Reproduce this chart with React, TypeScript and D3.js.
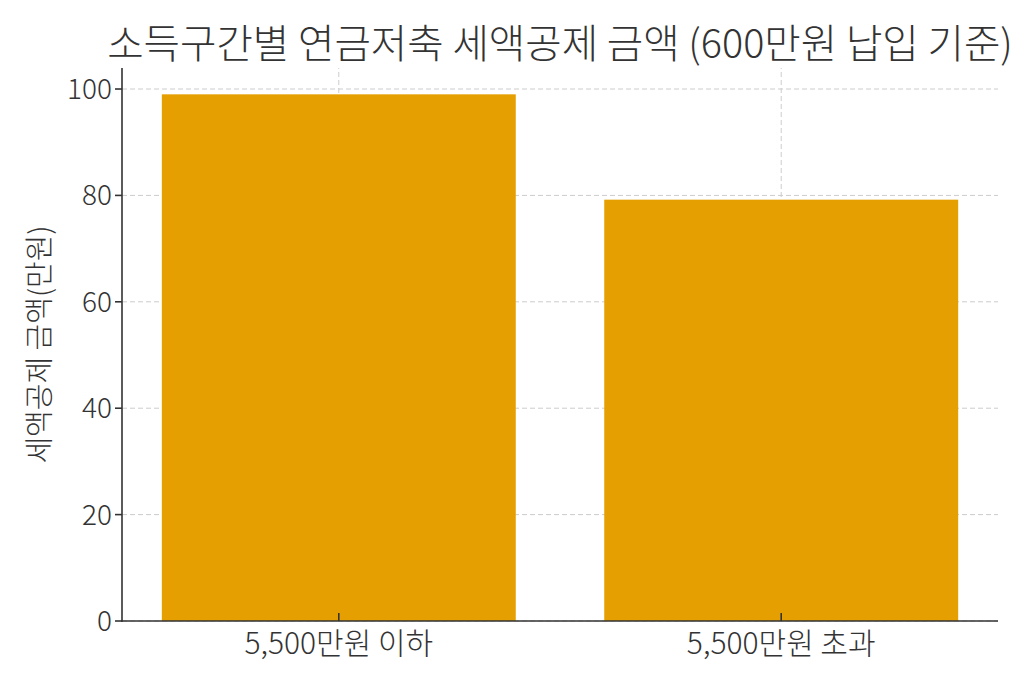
import React from 'react'
import * as d3 from 'd3'

const categories = ['5,500만원 이하', '5,500만원 초과']
const deductions = [99, 79.2]
const yTicks = [0, 20, 40, 60, 80, 100]

const title = '소득구간별 연금저축 세액공제 금액 (600만원 납입 기준)'
const yLabel = '세액공제 금액(만원)'

const W = 1024
const H = 683
const margin = { top: 68, right: 26, bottom: 62, left: 122 }
const FONT = '"Noto Sans CJK KR", "Noto Sans", sans-serif'

export default function App() {
  const x = d3.scaleLinear().domain([-0.49, 1.49]).range([margin.left, W - margin.right])
  const y = d3.scaleLinear().domain([0, 99 * 1.05]).range([H - margin.bottom, margin.top])
  const barW = x(0.4) - x(-0.4)
  const x0 = margin.left
  const x1 = W - margin.right
  const y0 = H - margin.bottom
  const y1 = margin.top

  return (
    <svg width={W} height={H} style={{ position: 'absolute', left: 0, top: 0, background: '#fff' }} fontFamily={FONT} fontWeight={300}>
      {/* grid */}
      <g stroke="#cccccc" strokeWidth={1} strokeDasharray="5,3">
        {yTicks.map(t => (
          <line key={'gy' + t} x1={x0} x2={x1} y1={y(t)} y2={y(t)} />
        ))}
        {categories.map((c, i) => (
          <line key={'gx' + c} x1={x(i)} x2={x(i)} y1={y0} y2={y1} />
        ))}
      </g>

      {/* bars */}
      {deductions.map((v, i) => (
        <rect key={categories[i]} x={x(i) - barW / 2} y={y(v)} width={barW} height={y0 - y(v)} fill="#E69F00" />
      ))}

      {/* axes */}
      <g stroke="#333" strokeWidth={1.6}>
        <line x1={x0} x2={x0} y1={y1} y2={y0 + 0.8} />
        <line x1={x0 - 0.8} x2={x1} y1={y0} y2={y0} />
        {yTicks.map(t => (
          <line key={'ty' + t} x1={x0 - 7} x2={x0} y1={y(t)} y2={y(t)} />
        ))}
        {categories.map((c, i) => (
          <line key={'tx' + c} x1={x(i)} x2={x(i)} y1={y0} y2={y0 - 8} />
        ))}
      </g>

      {/* tick labels */}
      <g fill="#333">
        {yTicks.map(t => (
          <text key={'ly' + t} x={x0 - 10} y={y(t)} dy="0.36em" textAnchor="end" fontSize={28}>{t}</text>
        ))}
        {categories.map((c, i) => (
          <text key={'lx' + c} x={x(i)} y={y0 + 33} textAnchor="middle" fontSize={30}>{c}</text>
        ))}
      </g>

      {/* y label */}
      <text transform={`translate(50,${(y0 + y1) / 2}) rotate(-90)`} textAnchor="middle" fontSize={29} fill="#333">{yLabel}</text>

      {/* title */}
      <text x={(x0 + x1) / 2} y={58} textAnchor="middle" fontSize={39.6} fill="#333">{title}</text>
    </svg>
  )
}
